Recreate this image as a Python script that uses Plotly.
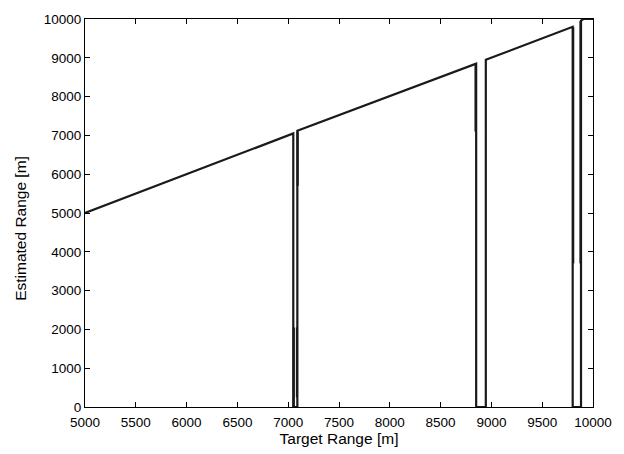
import plotly.graph_objects as go

# Main estimate curve (target range vs estimated range), breakpoints
target = [5000, 7050, 7050, 7090, 7090, 8850, 8850, 8945, 8945, 9800, 9800, 9882, 9882, 9905, 10000]
estimate = [5000, 7050, 0, 0, 7120, 8850, 0, 0, 8950, 9800, 0, 0, 9960, 10000, 10000]

# Extra overlapping vertical strokes (thicker-looking parts of the drops)
extra_x = [7055, 7055, None, 7086, 7086, None, 7093, 7093, None, 8844, 8844, None, 9805, 9805, None, 9877, 9877]
extra_y = [0, 2050, None, 250, 2050, None, 7100, 5700, None, 8840, 7100, None, 9790, 3700, None, 3700, 9950]

x_ticks = [5000, 5500, 6000, 6500, 7000, 7500, 8000, 8500, 9000, 9500, 10000]
y_ticks = [0, 1000, 2000, 3000, 4000, 5000, 6000, 7000, 8000, 9000, 10000]

FONT = "Liberation Sans, Arial, Helvetica, sans-serif"

fig = go.Figure()
fig.add_trace(go.Scatter(x=target, y=estimate, mode="lines",
                         line=dict(color="#1a1a1a", width=2.2), showlegend=False))
fig.add_trace(go.Scatter(x=extra_x, y=extra_y, mode="lines",
                         line=dict(color="#1a1a1a", width=2.2), showlegend=False,
                         connectgaps=False))

axis_common = dict(
    showgrid=False, zeroline=False, showline=True, linecolor="black", linewidth=1,
    mirror="ticks", ticks="inside", ticklen=5, tickcolor="black", tickwidth=1,
    tickfont=dict(family=FONT, size=13.5, color="black"),
)

L, R, T, B = 85, 31, 16, 46
W, H = 624, 454

fig.update_layout(
    width=W, height=H,
    margin=dict(l=L, r=R, t=T, b=B),
    paper_bgcolor="white", plot_bgcolor="white",
    xaxis=dict(range=[5000, 10000], tickvals=x_ticks, ticktext=[str(v) for v in x_ticks],
               ticklabelstandoff=3,
               title=dict(text="Target Range [m]", standoff=1,
                          font=dict(family=FONT, size=15.5, color="black")),
               **axis_common),
    yaxis=dict(range=[0, 10000], tickvals=y_ticks, ticktext=[str(v) for v in y_ticks],
               **axis_common),
)

pw, ph = W - L - R, H - T - B
fig.add_annotation(
    text="Estimated Range [m]", textangle=-90, showarrow=False,
    xref="paper", yref="paper",
    x=(21 - L) / pw, y=(H - B - 228) / ph, xanchor="center", yanchor="middle",
    font=dict(family=FONT, size=15.5, color="black"),
)

fig.write_html("out.html")
